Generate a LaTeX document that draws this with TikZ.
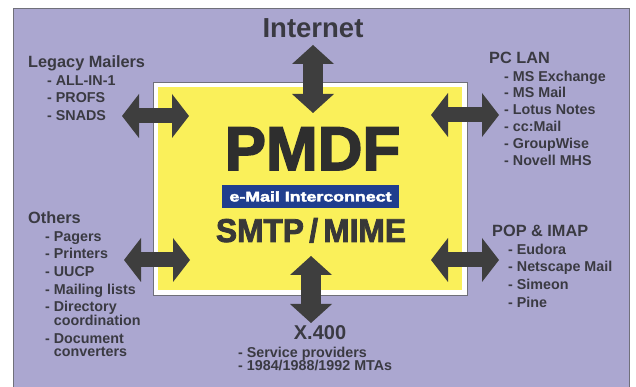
\documentclass[tikz,border=0pt]{standalone}
\usepackage{fontspec}
\setmainfont{Liberation Sans}
\newfontfamily\heavyfont[FakeBold=2.5]{Liberation Sans}
\usepackage{graphicx}
\usetikzlibrary{matrix,arrows.meta}
\definecolor{lavender}{RGB}{171,167,208}
\definecolor{ink}{RGB}{58,58,66}
\definecolor{pmdfyellow}{RGB}{250,240,90}
\definecolor{mailblue}{RGB}{32,62,142}
\definecolor{arrowgray}{RGB}{62,62,62}
\definecolor{framegray}{RGB}{112,112,122}

\tikzset{
  listhead/.style={font=\bfseries\fontsize{16.3}{18}\selectfont, text=ink, inner sep=0pt, anchor=base west},
  itemlist/.style={matrix of nodes, inner sep=0pt, anchor=north west, row sep=#1,
    nodes={font=\bfseries\fontsize{14.3}{16}\selectfont, text=ink, inner sep=0pt,
           anchor=west, text height=10pt, text depth=3.5pt}},
  itemlist/.default=4.2pt,
  vlink/.style={draw=arrowgray, line width=20pt,
    {Triangle[width=42pt,length=19pt,line width=0pt]}-{Triangle[width=42pt,length=19pt,line width=0pt]}},
  hlink/.style={draw=arrowgray, line width=15pt,
    {Triangle[width=44pt,length=17pt,line width=0pt]}-{Triangle[width=44pt,length=17pt,line width=0pt]}}
}

\begin{document}
\begin{tikzpicture}[x=1pt,y=1pt]
  \useasboundingbox (0,0) rectangle (636,387);
  \fill[white] (0,0) rectangle (636,387);

  % Background panel
  \draw[framegray, fill=lavender, line width=0.8pt] (13,-5) rectangle (629,379);

  % PMDF box
  \node[draw=framegray, fill=white, line width=0.8pt, inner sep=0pt,
        minimum width=314pt, minimum height=213pt] (frame) at (310,198.5) {};
  \node[fill=pmdfyellow, inner sep=0pt, minimum width=304pt, minimum height=203pt]
        (pmdfbox) at (frame.center) {};

  % Arrow ends
  \coordinate (inet-a) at (313,342);  \coordinate (inet-b) at (313,274);
  \coordinate (x400-a) at (311,131);  \coordinate (x400-b) at (311,64);
  \coordinate (legacy-a) at (122,271); \coordinate (legacy-b) at (189,271);
  \coordinate (others-a) at (124,127); \coordinate (others-b) at (190,127);
  \coordinate (pclan-a) at (431,272);  \coordinate (pclan-b) at (499,272);
  \coordinate (pop-a) at (431,127);    \coordinate (pop-b) at (499,127);

  \draw[vlink] (inet-a) -- (inet-b);
  \draw[vlink] (x400-a) -- (x400-b);
  \draw[hlink] (legacy-a) -- (legacy-b);
  \draw[hlink] (others-a) -- (others-b);
  \draw[hlink] (pclan-a) -- (pclan-b);
  \draw[hlink] (pop-a) -- (pop-b);

  % Centre texts
  \node[font=\heavyfont\bfseries\fontsize{62}{62}\selectfont, text=black!82, inner sep=0pt, anchor=base]
        (pmdf) at (312.5,217) {PMDF};
  \node[fill=mailblue, text=white, inner sep=0pt, minimum width=177pt, minimum height=23pt,
        font=\heavyfont\bfseries\fontsize{14}{14}\selectfont]
        (bluebar) at (310.5,190.5) {\scalebox{1.27}[1]{e-Mail Interconnect}};
  \node[font=\heavyfont\bfseries\fontsize{33}{33}\selectfont, text=black!78, inner sep=0pt, anchor=base]
        (smtp) at (311,145) {\scalebox{.96}[1]{SMTP\,/\,MIME}};

  % Internet
  \node[font=\bfseries\fontsize{27.5}{28}\selectfont, text=ink, inner sep=0pt, anchor=base]
        (internet) at (313,349) {Internet};

  % Legacy mailers
  \node[listhead] (legacy) at (28,319) {Legacy Mailers};
  \matrix (legacy-list) [itemlist=4pt] at (47,312)
  {
    - ALL-IN-1 \\
    - PROFS    \\
    - SNADS    \\
  };

  % PC LAN
  \node[listhead] (pclan) at (489,323) {PC LAN};
  \matrix (pclan-list) [itemlist=3.3pt] at (504,316)
  {
    - MS Exchange \\
    - MS Mail     \\
    - Lotus Notes \\
    - cc:Mail     \\
    - GroupWise   \\
    - Novell MHS  \\
  };

  % Others
  \node[listhead] (others) at (28,163) {Others};
  \matrix (others-list) [itemlist] at (45,156)
  {
    - Pagers                   \\
    - Printers                 \\
    - UUCP                     \\
    - Mailing lists            \\
    - Directory                \\[-4.2pt]
    \phantom{- }coordination   \\
    - Document                 \\[-4.2pt]
    \phantom{- }converters     \\
  };

  % POP & IMAP
  \node[listhead] (pop) at (492,150) {POP \& IMAP};
  \matrix (pop-list) [itemlist] at (508,143)
  {
    - Eudora        \\
    - Netscape Mail \\
    - Simeon        \\
    - Pine          \\
  };

  % X.400
  \node[font=\bfseries\fontsize{20}{22}\selectfont, text=ink, inner sep=0pt, anchor=base]
        (x400) at (320,47.5) {X.400};
  \matrix (x400-list) [itemlist=1pt, nodes={text height=9.5pt, text depth=2.5pt}] at (238,39.5)
  {
    - Service providers     \\
    - 1984/1988/1992 MTAs   \\
  };
\end{tikzpicture}
\end{document}
